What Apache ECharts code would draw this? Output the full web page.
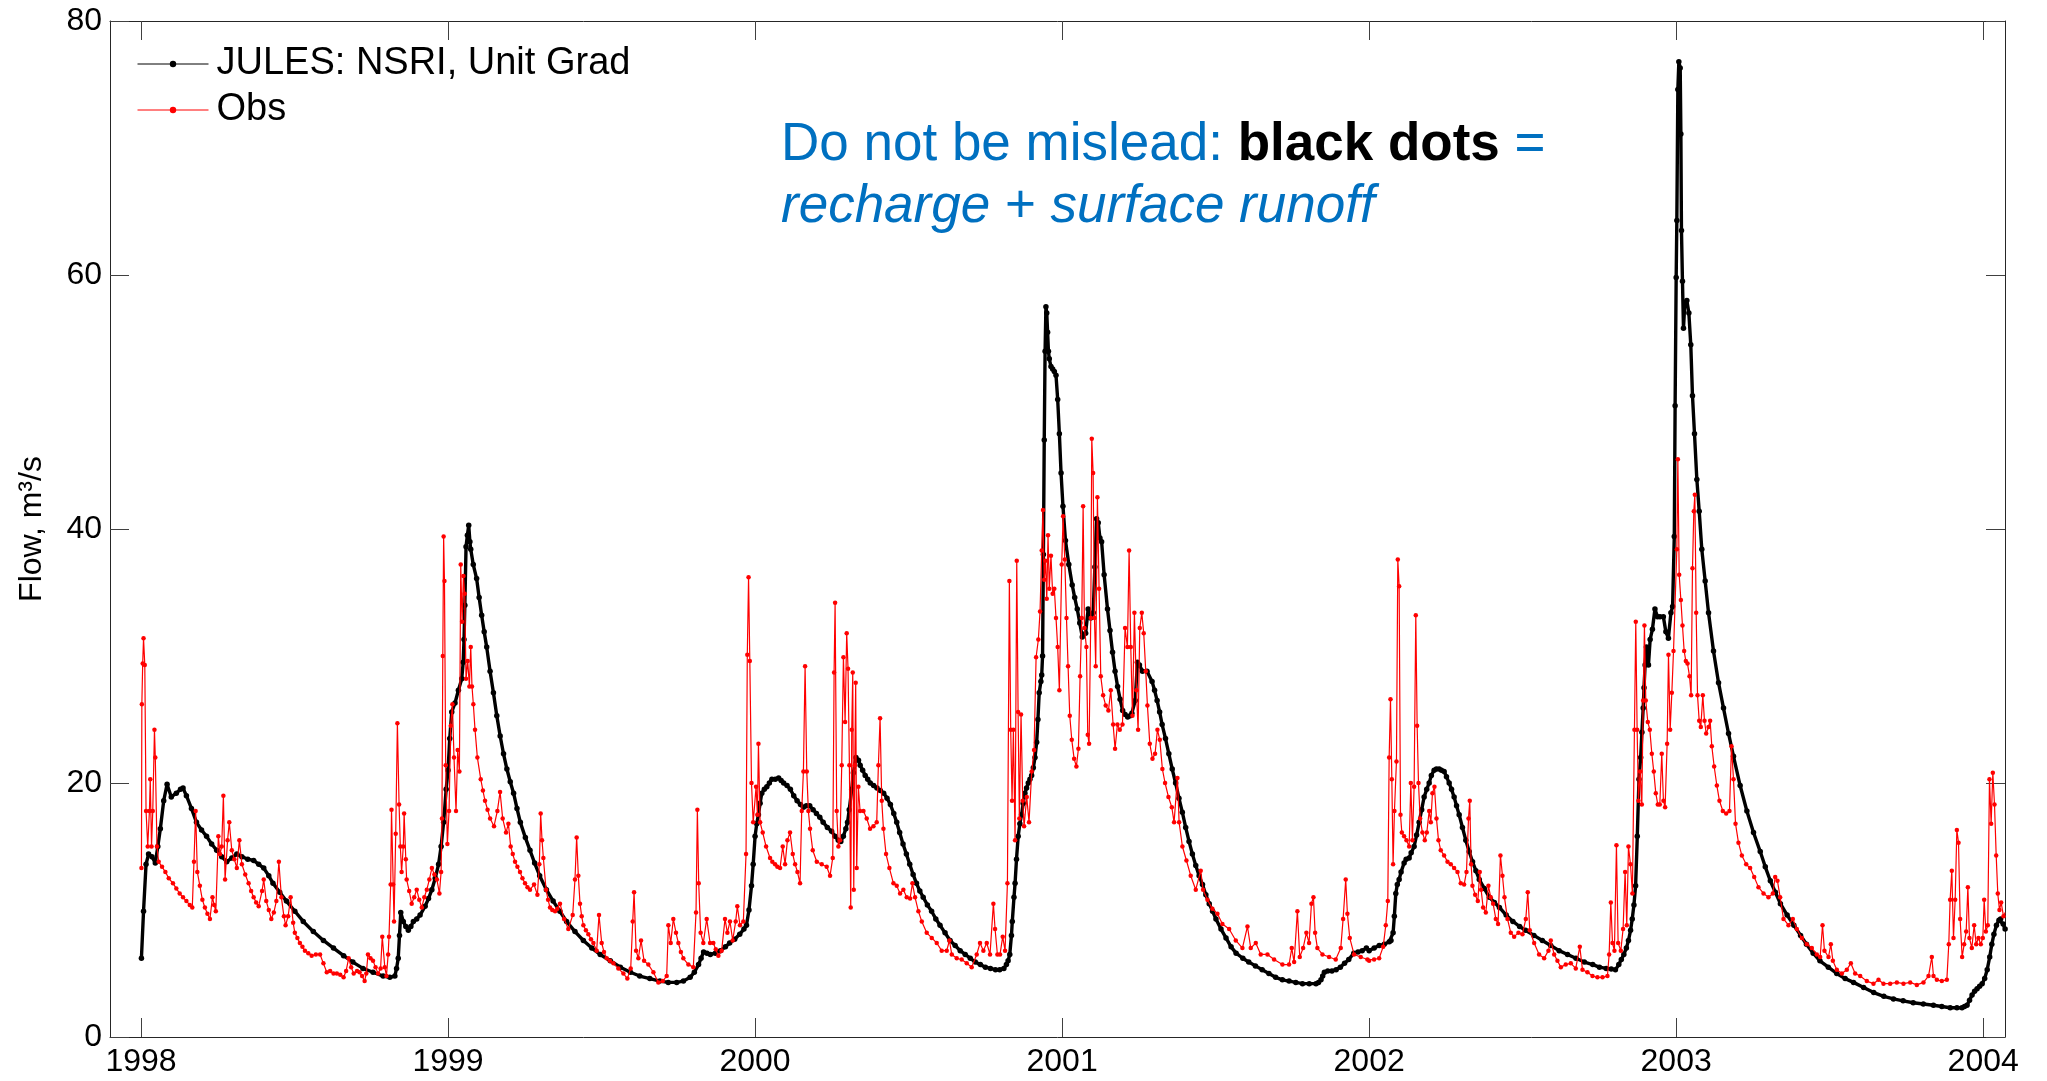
<!DOCTYPE html>
<html>
<head>
<meta charset="utf-8">
<title>Flow 1998-2004</title>
<script src="https://cdn.jsdelivr.net/npm/echarts@6.0.0/dist/echarts.min.js"></script>
<style>
  html, body { margin: 0; padding: 0; background: #fff; }
  #chart { width: 2047px; height: 1081px; }
</style>
</head>
<body>
<div id="chart"></div>
<script>
// tick labels
var yearTicks = [1998, 1999, 2000, 2001, 2002, 2003, 2004];

// JULES: NSRI, Unit Grad  ->  [day of year, flow m3/s]
var sim1998 = [[0.5,6.2],[3,9.9],[6,13.6],[9,14.4],[13,14.2],[17,13.7],[20,15],[23,16.4],[27,18.6],[31,19.9],[36,18.9],[42,19.2],[47,19.5],[50,19.6],[54,19.0],[60,18],[66,16.9],[72,16.3],[78,15.8],[84,15.2],[90,14.7],[96,14.2],[102,13.8],[108,14.1],[114,14.4],[120,14.2],[127,14.0],[134,13.9],[140,13.6],[146,13.3],[152,12.7],[157,12.1],[165,11.4],[173,10.7],[183,9.9],[193,9.1],[205,8.3],[217,7.6],[229,7.0],[241,6.4],[252,5.9],[264,5.4],[276,5.1],[288,4.8],[296,4.7],[302,4.8],[304,5.4],[306,6.2],[307.5,8],[309,9.8],[312,9.1],[315,8.7],[318,8.4],[321,8.7],[324,9.1],[328,9.3],[332,9.6],[338,10.3],[342,10.9],[346,11.6],[350,12.5],[354,13.6],[357,15],[360,16.9],[363,19.5]];
var sim1999 = [[0,21],[2,23.5],[4.4,25.6],[8.3,26.3],[12.3,27.3],[16.3,28.2],[18,29.5],[19,31.3],[20,34],[21.4,38.6],[23,39.5],[24.6,40.3],[26,39],[27,38.4],[30,37.2],[34,36.1],[37,34.6],[40,33.2],[43,31.9],[46,30.7],[50,28.8],[54,27.1],[58,25.3],[62,23.7],[66,22.3],[70,21.1],[74,20.1],[78,19.2],[82,18],[86,16.9],[92,15.7],[97.5,14.7],[103,13.7],[109,12.7],[117,11.6],[125,10.7],[133,9.9],[141,9.1],[151,8.3],[161,7.6],[171,7.0],[181,6.5],[193,6.0],[205,5.5],[217,5.1],[228,4.8],[240,4.6],[252,4.4],[262,4.3],[272,4.3],[280,4.4],[288,4.7],[293,5.1],[298,5.7],[301,6.2],[304,6.7],[308,6.6],[312,6.5],[318,6.6],[324,6.8],[330,7.1],[335,7.4],[341,7.7],[347,8.1],[352,8.5],[355,8.8],[358,10],[361,11.9],[363,13.6]];
var sim2000 = [[0,15.8],[2,16.8],[4,17.5],[6,18.4],[8,19.2],[11,19.5],[14,19.7],[17,20],[20,20.3],[24,20.3],[28,20.4],[31,20.2],[34,20.0],[38,19.8],[42,19.5],[46,19],[50,18.6],[54,18.3],[57.5,18.1],[61,18.2],[65,18.2],[69,17.9],[73,17.6],[77,17.3],[81,16.9],[86,16.5],[91,16.2],[95,15.8],[99,15.5],[102,15.4],[105,15.8],[108,16.4],[110,16.9],[112,17.9],[115,19.5],[117,20.8],[120,22.0],[123,21.8],[125,21.4],[128,21.0],[131,20.6],[134,20.3],[137,20.0],[141,19.8],[145,19.6],[149,19.4],[153,19.2],[157,18.8],[161,18.3],[165,17.6],[168.5,16.9],[172,16.1],[176,15.2],[180,14.4],[184,13.6],[188,12.8],[192,12.1],[196,11.5],[200,11],[205,10.4],[210,9.9],[215,9.3],[220,8.8],[226,8.2],[232,7.6],[238,7.2],[244,6.8],[250,6.5],[256,6.2],[262,5.9],[268,5.7],[274,5.5],[280,5.4],[286,5.3],[291,5.3],[296,5.4],[299,5.7],[301,6.0],[303,6.5],[305,8],[306,9.1],[308,11],[309.3,12.1],[311,14],[313,15.8],[315,16.8],[317,17.5],[319,18.4],[321,19.2],[323,19.6],[325,20.0],[327,20.3],[329,20.6],[331,21.2],[333,22.0],[335,23.2],[336.5,25],[338,27.1],[340,28],[341,28.5],[342,30],[343,38],[344,47],[345,54],[346,57.5],[347,57],[348,55.5],[349,54],[350,53.4],[352,52.8],[354,52.6],[356,52.4],[358,52.1],[360,50.2],[362,47.5],[364,44.4]];
var sim2001 = [[1,41.8],[4,39.1],[8,37.2],[12,35.6],[15,34.6],[18,33.7],[21,32.6],[24,31.5],[28,31.8],[31,33.7],[34,33.0],[37,33.4],[39,37.0],[41,40.8],[43,40.5],[45,39.3],[47,39.0],[50,36.4],[54,33.7],[57,32],[60,30.3],[63,28.8],[66,27.6],[69,26.6],[72,25.7],[75,25.4],[78,25.2],[81,25.3],[83,25.5],[87,26.5],[89.6,29.5],[92,29.3],[95.6,28.8],[101,28.8],[107,28.0],[110,27.3],[113,26.5],[116,25.6],[119,24.6],[123,23.5],[127,22.3],[131,21.1],[135,20.0],[139,18.8],[143,17.7],[147,16.5],[151,15.4],[155,14.4],[159,13.5],[163,12.7],[167,12.0],[171,11.2],[175,10.5],[179,9.9],[183,9.3],[189,8.5],[195,7.8],[201,7.1],[207,6.6],[215,6.2],[222,5.9],[230,5.6],[238,5.3],[246,5.0],[254,4.7],[262,4.5],[270,4.4],[278,4.3],[286,4.2],[294,4.2],[302,4.2],[305,4.3],[308,4.5],[310,4.8],[312,5.1],[316,5.2],[321,5.2],[326,5.3],[331,5.5],[336,5.8],[341,6.1],[347,6.6],[352,6.7],[357,6.8],[362,7.0]];
var sim2002 = [[0,6.8],[6,7.0],[12,7.2],[18,7.3],[24,7.5],[26,7.6],[28.5,8.2],[30,9.5],[31.7,11.3],[33.5,12],[35.7,12.4],[38,13.0],[41.6,13.7],[44,14],[47.6,14.1],[50,14.5],[53.5,15.0],[56.5,15.9],[59.5,16.9],[62.5,17.9],[65.4,18.9],[68.5,19.5],[71.4,20.0],[74,20.6],[77.3,21.0],[80,21.1],[83.3,21.1],[86,21],[89.2,20.9],[92,20.5],[95.2,20.0],[98,19.5],[101.1,18.9],[104,18.2],[107.1,17.5],[111,16.5],[115,15.5],[119,14.6],[123,13.8],[127,13.1],[131,12.4],[137,11.7],[143,11.0],[149,10.6],[155,10.2],[163,9.6],[171,9.1],[179,8.7],[186,8.4],[196,8.0],[206,7.6],[216,7.2],[226,6.8],[236,6.5],[246,6.2],[256,5.9],[266,5.7],[274,5.5],[282,5.4],[288,5.35],[293,5.3],[297,5.7],[300,6.1],[303,6.5],[306,7.0],[308.5,7.6],[311,8.4],[313,9.3],[315,10.4],[317,11.9],[319,15.8],[321,20.3],[323,22.0],[324.5,24],[326,25.9],[327,27.5],[328.3,29.3],[329.9,30.7],[331,30.1],[332.3,29.3],[334.3,31.3],[337,32.1],[340,33.7],[343,33.1],[346,33.1],[350,33.1],[353,31.9],[356,31.4],[359,33.4],[361,33.9],[363,39.4],[364,49.7]];
var sim2003 = [[0,59.8],[0.8,64.3],[2,74.6],[3.2,76.8],[4.8,76.3],[5.6,71.1],[6.3,63.5],[7.5,59.5],[8.7,55.8],[10.3,57.8],[12.7,58.0],[15.1,57.0],[17.4,54.5],[19.4,50.5],[21.8,47.5],[24.6,43.9],[27.4,41.4],[30.5,38.4],[34.5,35.9],[38.5,33.4],[44.4,30.4],[50.4,27.9],[56.3,25.9],[62.3,23.9],[68.2,22.1],[76.1,19.8],[84.1,17.8],[92,16.1],[100,14.6],[106,13.4],[112,12.3],[118,11.4],[124,10.5],[132,9.6],[140,8.8],[148,8.0],[155,7.3],[163,6.6],[171,6.0],[181,5.5],[191,5.0],[201,4.6],[211,4.3],[223,3.9],[235,3.5],[247,3.2],[258.5,3.0],[270,2.85],[282,2.7],[294,2.6],[306,2.5],[316,2.4],[326,2.3],[334,2.3],[340,2.3],[343,2.4],[346,2.5],[349,2.9],[352,3.3],[355,3.6],[358,3.8],[361,4.0],[364,4.2],[367,4.6],[370,5.3],[373,6.3],[375.5,7.3],[378,8.1],[381,8.8],[384,9.2],[386,9.3],[389,8.9],[391.3,8.5]];

// Obs  ->  [day of year, flow m3/s]
var obs1998 = [[0.5,13.3],[1,26.2],[2,29.4],[3,31.4],[4.5,29.3],[6,17.8],[8,15.0],[10,17.8],[11,20.3],[12.5,15.0],[14,17.8],[16,24.2],[17,22.0],[19,15.0],[21,13.8],[25,13.4],[29,13.0],[33,12.5],[38,12.1],[42,11.7],[46,11.3],[50,11.0],[54,10.7],[58,10.4],[61,10.2],[63,13.8],[65,17.8],[67,13.0],[70,11.9],[73,10.8],[76,10.2],[79,9.7],[82,9.3],[85,11.0],[87,10.4],[89,9.9],[92,15.8],[94,14.4],[96,15.0],[98,19.0],[100,12.4],[103,15.5],[105,16.9],[108,14.7],[111,14.0],[114,13.3],[117,15.5],[120,13.6],[124,12.8],[128,12.1],[131,11.5],[134,11.0],[137,10.6],[140,10.3],[144,11.5],[146,12.4],[149,10.7],[152,10.0],[155,9.3],[158,9.8],[161,10.7],[164,13.8],[167,11.0],[170,9.5],[172,8.8],[175,9.5],[178,11.0],[181,9.0],[183,8.2],[186,7.8],[189,7.4],[192,7.1],[195,6.8],[199,6.6],[203,6.4],[208,6.5],[213,6.5],[217,5.8],[221,5.1],[225,5.2],[229,5.0],[233,5.0],[237,4.9],[241,4.7],[244,5.2],[247,6.2],[250,5.5],[253,5.0],[257,5.2],[260,5.1],[263,4.8],[266,4.4],[268,5.0],[270,6.5],[273,6.2],[276,6.0],[279,5.5],[282,5.0],[285,5.4],[287,7.9],[290,5.5],[292,4.8],[294,6.5],[295,7.9],[297,12],[298,17.9],[300,12],[301,9.1],[303,16],[305,24.7],[307,18.3],[308.5,15],[310,13.0],[312,15],[313,17.6],[315,14],[316,12.4],[319,11.5],[322,10.5],[325,11],[328,11.6],[331,10.8],[334,10.2],[337,11],[340,11.6],[343,12.4],[346,13.3],[349,12.8],[352,12.4],[355,11.3],[357,13],[358,17.2],[359,30],[360,39.4],[361,35.9]];
var obs1999 = [[-2.8,21.4],[-0.8,15.2],[1.2,17.8],[3.2,24.5],[5.2,26.2],[7.1,22.0],[9.5,17.8],[11.5,22.6],[13.5,20.9],[15.1,37.2],[16.7,32.7],[18.3,36.3],[19.8,34.9],[21.4,28.2],[23.4,29.6],[25.4,27.6],[27,30.7],[28.5,27.6],[30.1,26.2],[32.1,24.2],[34.9,22.0],[38.9,20.3],[41.5,19.4],[44,18.6],[47,17.9],[50,17.2],[54.7,16.6],[58.7,17.8],[61.9,19.3],[65,17.2],[69,16.1],[71.8,16.8],[74.5,15.0],[77,14.4],[79.7,13.8],[82.5,13.4],[85.6,13.0],[88.5,12.5],[91.6,12.1],[94.5,11.8],[97.5,11.6],[102.3,12.0],[106.3,11.2],[108.6,13.6],[110.2,17.6],[111.8,15.5],[113.4,14.1],[116.6,11.6],[119,10.8],[121.3,10.2],[124,10.0],[127.3,9.9],[130,10.1],[133.2,10.5],[138,9.3],[143.1,8.5],[148.3,9.6],[151,12.4],[153,15.7],[155,12.7],[157,10.5],[159,9.5],[161,8.8],[164,8.4],[166.9,8.1],[170,7.7],[172.9,7.4],[176.8,6.8],[179.6,9.6],[182.8,7.4],[185.5,6.7],[188.7,6.2],[192.5,6.0],[196.7,5.8],[202.6,5.4],[208.6,5.0],[213.3,4.6],[217.3,5.4],[219.7,9.1],[221.3,11.4],[223.7,6.8],[226.4,6.2],[229.6,7.6],[233.2,6.0],[238.3,5.7],[244.3,5.1],[250.2,4.3],[255.4,4.4],[260.1,4.8],[262.1,8.8],[264.9,7.4],[268,9.3],[271.2,8.2],[274,7.4],[277,6.7],[279.9,6.2],[285.9,5.7],[291.8,5.5],[295,9.8],[296.6,17.9],[298.2,12.1],[300.5,8.2],[303.7,7.4],[307.7,9.3],[311.7,7.4],[315.6,7.4],[318.5,6.9],[321.6,6.4],[325.5,6.8],[329.5,9.3],[332.3,8.2],[335.4,9.1],[338.6,7.6],[342.2,9.1],[344.1,10.3],[347.3,8.8],[351.3,9.1],[354.5,14.4],[356,30.1],[357.5,36.2],[359,29.6],[361,20.0],[363,16.9]];
var obs2000 = [[1.2,19.7],[2.8,17.5],[4,23.1],[6,16.9],[9.1,16.1],[13.1,15.0],[17.8,14.1],[20.5,13.8],[23.8,13.6],[26.5,13.4],[29.7,13.3],[32.9,15.0],[35.7,13.6],[38.5,15.5],[41.6,16.1],[44.8,14.4],[47.6,13.6],[50.4,13.0],[53.5,12.1],[55.5,17.8],[57.5,20.9],[59.5,29.2],[61.5,20.9],[63.4,17.8],[65.4,16.4],[68.6,14.7],[73.4,13.8],[79.3,13.6],[85.2,13.4],[89.2,12.7],[92.4,14.1],[94,28.7],[95.2,34.2],[97.1,17.8],[99.1,15.0],[101.1,15.5],[103.1,21.4],[105.1,29.9],[107.1,24.8],[109,31.8],[110.6,29.0],[112.2,21.4],[113.8,10.2],[115,24.2],[116.2,28.7],[117.4,11.6],[118.6,21.4],[119.7,27.9],[120.9,13.3],[122.9,19.7],[124.9,17.8],[128.9,17.8],[132.8,17.2],[136.8,16.4],[140.8,16.6],[144.7,16.9],[146.7,21.4],[148.7,25.1],[150.7,18.6],[152.7,16.4],[155.8,14.4],[159.8,13.3],[164.6,12.1],[168.5,11.9],[172.5,11.3],[176.4,11.6],[180.4,11.0],[184.4,10.9],[187.2,12.1],[190.3,11.0],[194.3,9.9],[198.3,9.1],[204.2,8.2],[210.2,7.8],[216.1,7.4],[222,6.8],[228,6.8],[231.2,7.6],[234,6.5],[239.9,6.2],[245.8,6.1],[251.8,5.8],[257.7,5.5],[263.7,6.5],[267.6,7.4],[271.6,6.8],[275.6,7.4],[279.5,6.5],[283.5,10.5],[285.5,8.5],[288.3,6.5],[291.4,6.5],[294.6,7.9],[297.4,6.8],[300.2,12.1],[302.5,35.9],[304.1,24.2],[305.7,18.6],[307.3,24.2],[309.3,15.5],[311.3,37.5],[312.9,25.6],[314.4,17.2],[316.4,25.4],[318.4,18.6],[320,16.6],[323.2,18.9],[325.9,16.9],[329.1,20.9],[331.9,22.6],[334.3,29.9],[337,31.3],[339,33.5],[341,38.3],[342.5,41.5],[344,36],[345.5,37.5],[347,34.5],[348.5,39.5],[350,35.3],[352,37.9],[354,34.9],[356,35.3],[358,33.0],[360,30.7],[362,27.3],[364.8,37.2]];
var obs2001 = [[1.2,41.0],[3.2,37.6],[5.2,33.0],[7.1,29.2],[9.1,25.3],[11.5,23.4],[14.3,21.9],[17,21.3],[19.4,22.7],[21.4,28.4],[23.4,33.0],[25,41.8],[26.6,32.2],[28.9,30.7],[30.5,23.8],[32.1,23.1],[34.1,33.0],[35.3,47.1],[36.9,44.4],[38.5,33.0],[40,29.2],[42,42.5],[44,35.3],[46,28.4],[48.8,26.9],[51.9,26.1],[55.1,25.7],[57.9,27.3],[60.7,24.6],[63,22.7],[65.8,24.6],[68.6,24.2],[71.8,24.6],[74.9,32.2],[77.7,30.7],[79.7,38.3],[81.7,30.7],[83.7,25.3],[86,33.4],[88.4,27.3],[90.4,24.2],[92.4,32.2],[94.8,33.4],[97.1,31.8],[99.5,28.8],[101.5,26.1],[104.3,23.1],[107.5,21.9],[110.6,22.3],[113.4,24.2],[116.2,23.4],[119.3,21.1],[122.5,20.0],[126.5,18.9],[130.5,18.1],[133.2,16.9],[137.2,20.4],[139.2,16.9],[143.1,15.0],[147.9,13.9],[153,12.7],[159,11.6],[164.9,13.1],[167.7,11.6],[172.9,10.8],[178.8,10.1],[184.8,9.7],[190.7,8.9],[198.7,8.5],[206.6,7.6],[214.5,7.0],[220.5,8.7],[224.4,7.0],[230.4,7.4],[236.3,6.5],[244.3,6.5],[252.2,6.1],[262.1,5.7],[270,5.7],[273.2,7.0],[276,5.9],[279.9,9.9],[282.7,6.3],[286.7,7.0],[290.6,8.2],[293.8,7.4],[296.6,10.5],[299,11.0],[301,8.2],[303.7,7.0],[309.7,6.5],[317.6,6.3],[325.5,6.1],[331.5,7.0],[334.3,9.3],[337.4,12.4],[339.4,9.7],[342.2,7.8],[347.3,6.5],[355.3,6.3],[363.2,6.1]];
var obs2002 = [[0,6.0],[5.9,6.1],[11.9,6.2],[16.7,7.1],[19.8,8.8],[22.2,10.7],[23.8,22.0],[25.4,26.6],[27,20.3],[28.5,13.6],[30.1,17.8],[32.5,21.7],[34.1,37.6],[35.7,35.5],[37.3,17.5],[38.9,16.1],[41.6,15.8],[44.4,15.5],[47.6,15.0],[49.6,20.0],[51.5,15.5],[53.5,19.7],[55.5,33.2],[57.1,24.5],[58.7,20.0],[60.7,17.2],[63.4,16.1],[66.2,15.5],[68.6,16.1],[71.4,17.8],[73.4,16.9],[75.3,19.2],[77.7,19.7],[80.1,17.2],[82.5,15.5],[85.2,14.7],[89.2,14.3],[93.2,13.8],[97.1,13.6],[101.1,13.3],[105.1,13.0],[109,12.1],[113,12.0],[115.8,13.0],[118.2,17.2],[119.7,18.6],[121.3,13.6],[122.9,11.9],[126.1,11.2],[129.3,10.7],[131.6,13.0],[133.2,11.6],[135.6,10.2],[138.8,9.8],[141.9,11.9],[144.7,11.0],[147.5,10.5],[150.7,9.3],[153.4,8.9],[156.2,14.3],[158.6,12.7],[161,11.0],[164.6,9.3],[168.5,8.2],[172.5,7.9],[177.6,8.2],[182.4,8.1],[186.4,9.3],[188.7,11.4],[191.1,8.4],[196.3,7.4],[202.2,6.5],[208.2,6.2],[213.3,6.8],[216.1,7.6],[220.1,6.5],[224,6.0],[228,5.5],[233.9,5.7],[239.9,5.8],[245.8,5.4],[250.6,7.1],[253.8,5.3],[259.7,5.1],[265.7,4.8],[271.6,4.7],[277.6,4.7],[283.5,4.8],[285.5,6.5],[287.5,10.6],[289.5,7.4],[291.8,6.8],[294.2,15.1],[296.2,7.4],[299.4,6.8],[302.1,8.5],[304.5,13.0],[306.5,8.8],[308.5,15.0],[310.9,13.6],[313.2,11.3],[315.6,24.2],[317.2,32.7],[318.8,24.2],[320.4,18.6],[322.4,20.9],[324.4,18.3],[326,26.5],[327.5,32.4],[329.1,26.5],[331.5,24.8],[333.9,24.2],[336.3,22.3],[338.6,20.9],[341,19.2],[343.4,18.3],[345.8,18.3],[348.1,22.3],[350.1,18.6],[352.1,18.1],[354.5,23.1],[356.1,30.1],[358.1,24.2],[360.1,27.1],[362.1,30.4]];
var obs2003 = [[0.8,38.4],[2,45.5],[3.6,36.4],[5.6,34.4],[7.5,32.4],[9.5,30.4],[11.5,29.6],[13.5,29.4],[15.9,28.4],[17.8,26.9],[19.4,36.9],[21,41.4],[22.2,42.7],[23.8,33.4],[25.4,26.9],[27.4,24.9],[29.3,24.4],[31.7,26.9],[33.7,24.9],[35.7,23.9],[38.5,24.4],[40.4,24.9],[42.4,22.9],[45.2,21.3],[48.4,19.8],[51.5,18.6],[55.5,17.8],[59.5,17.6],[63.4,17.8],[65.8,22.9],[68.2,20.3],[70.6,16.8],[74.1,15.3],[78.1,14.3],[83.3,13.6],[88,13.3],[92.8,12.6],[97.9,11.8],[103.9,11.3],[109.8,11.0],[115,11.3],[117.8,12.6],[120.5,12.3],[123.7,11.0],[127.7,9.3],[133.6,8.8],[138.8,9.3],[143.5,8.5],[149.5,7.8],[155.4,7.3],[161.4,7.0],[167.3,6.5],[171.3,6.3],[174.1,8.8],[176.4,6.8],[181.2,6.3],[184,7.3],[186.4,6.0],[191.1,5.3],[197.1,5.0],[203,5.3],[207.8,5.8],[212.9,5.0],[218.9,4.8],[226.8,4.4],[234.7,4.2],[240.7,4.5],[246.6,4.2],[254.6,4.2],[262.5,4.3],[270.4,4.2],[278.4,4.3],[286.3,4.1],[294.2,4.3],[300.2,4.8],[304.1,6.3],[306.1,4.8],[310.1,4.5],[316,4.4],[322,4.5],[324.3,7.3],[325.9,10.8],[327.9,13.1],[329.9,7.8],[331.9,10.8],[333.9,16.3],[335.9,15.3],[337.8,9.3],[340.2,6.3],[342.6,7.3],[345,8.3],[347,11.8],[348.9,7.8],[351.7,7.0],[354.5,8.8],[356.9,7.3],[359.6,7.8],[362.4,7.3],[364.8,7.8],[366.4,10.8],[368.4,8.3],[370.7,8.8],[372.7,20.3],[374.7,16.8],[376.7,20.8],[378.7,18.3],[380.7,14.3],[382.6,11.3],[384.6,10.0],[386.6,10.6],[389.4,9.5],[391.4,9.8]];

// day of year -> decimal year on the x axis
function toYears(year, rows) {
    return rows.map(function (r) { return [year + r[0] / 365.25, r[1]]; });
}
function byX(a, b) { return a[0] - b[0]; }

var simData = [].concat(
    toYears(1998, sim1998), toYears(1999, sim1999), toYears(2000, sim2000),
    toYears(2001, sim2001), toYears(2002, sim2002), toYears(2003, sim2003)
).sort(byX);
var obsData = [].concat(
    toYears(1998, obs1998), toYears(1999, obs1999), toYears(2000, obs2000),
    toYears(2001, obs2001), toYears(2002, obs2002), toYears(2003, obs2003)
).sort(byX);

var FONT = 'Liberation Sans, Arial, Helvetica, sans-serif';
var xMin = 1997.899, xMax = 2004.071;

var chart = echarts.init(document.getElementById('chart'), null, { renderer: 'canvas' });

chart.setOption({
    animation: false,
    backgroundColor: '#ffffff',
    grid: { left: 110, right: 42, top: 21, bottom: 44, show: false },
    legend: {
        orient: 'vertical',
        left: 132,
        top: 39,
        itemWidth: 71,
        itemHeight: 8,
        itemGap: 6,
        selectedMode: false,
        lineStyle: { width: 1 },
        textStyle: { fontFamily: FONT, fontSize: 38, color: '#000', lineHeight: 40, padding: [0, 0, 0, 3] },
        data: ['JULES: NSRI, Unit Grad', 'Obs']
    },
    xAxis: [
        {
            type: 'value',
            min: xMin,
            max: xMax,
            position: 'bottom',
            splitLine: { show: false },
            axisLine: { show: true, onZero: false, lineStyle: { color: '#262626', width: 1 } },
            axisTick: { show: true, inside: true, length: 19, customValues: yearTicks, lineStyle: { color: '#404040', width: 1 } },
            axisLabel: {
                customValues: yearTicks,
                margin: 9,
                fontFamily: FONT,
                fontSize: 32,
                color: '#000',
                formatter: function (v) { return String(Math.round(v)); }
            }
        },
        {
            type: 'value',
            min: xMin,
            max: xMax,
            position: 'top',
            splitLine: { show: false },
            axisLine: { show: true, onZero: false, lineStyle: { color: '#262626', width: 1 } },
            axisTick: { show: true, inside: true, length: 19, customValues: yearTicks, lineStyle: { color: '#404040', width: 1 } },
            axisLabel: { show: false }
        }
    ],
    yAxis: [
        {
            type: 'value',
            min: 0,
            max: 80,
            interval: 20,
            position: 'left',
            name: 'Flow, m³/s',
            nameLocation: 'middle',
            nameGap: 62,
            nameTextStyle: { fontFamily: FONT, fontSize: 32, color: '#000' },
            splitLine: { show: false },
            axisLine: { show: true, onZero: false, lineStyle: { color: '#262626', width: 1 } },
            axisTick: { show: true, inside: true, length: 19, lineStyle: { color: '#404040', width: 1 } },
            axisLabel: { margin: 8, fontFamily: FONT, fontSize: 32, color: '#000' }
        },
        {
            type: 'value',
            min: 0,
            max: 80,
            interval: 20,
            position: 'right',
            splitLine: { show: false },
            axisLine: { show: true, onZero: false, lineStyle: { color: '#262626', width: 1 } },
            axisTick: { show: true, inside: true, length: 19, lineStyle: { color: '#404040', width: 1 } },
            axisLabel: { show: false }
        }
    ],
    graphic: [
        {
            type: 'text',
            left: 781,
            top: 119,
            z: 100,
            style: {
                text: '{n|Do not be mislead: }{b|black dots}{n| =}\n{i|recharge}{n| + }{i|surface runoff}',
                rich: {
                    n: { fontFamily: FONT, fontSize: 53, lineHeight: 62, fill: '#0070C0', color: '#0070C0' },
                    b: { fontFamily: FONT, fontSize: 53, lineHeight: 62, fontWeight: 'bold', fill: '#000', color: '#000' },
                    i: { fontFamily: FONT, fontSize: 53, lineHeight: 62, fontStyle: 'italic', fill: '#0070C0', color: '#0070C0' }
                }
            }
        }
    ],
    series: [
        {
            name: 'JULES: NSRI, Unit Grad',
            type: 'line',
            xAxisIndex: 0,
            yAxisIndex: 0,
            data: simData,
            symbol: 'circle',
            symbolSize: 5.5,
            showSymbol: true,
            showAllSymbol: true,
            color: '#000000',
            itemStyle: { color: '#000000' },
            lineStyle: { color: '#000000', width: 3.4 },
            emphasis: { disabled: true },
            z: 2
        },
        {
            name: 'Obs',
            type: 'line',
            xAxisIndex: 0,
            yAxisIndex: 0,
            data: obsData,
            symbol: 'circle',
            symbolSize: 4.5,
            showSymbol: true,
            showAllSymbol: true,
            color: '#ff0000',
            itemStyle: { color: '#ff0000' },
            lineStyle: { color: '#ff0000', width: 1.2 },
            emphasis: { disabled: true },
            z: 3
        }
    ]
});
</script>
</body>
</html>
